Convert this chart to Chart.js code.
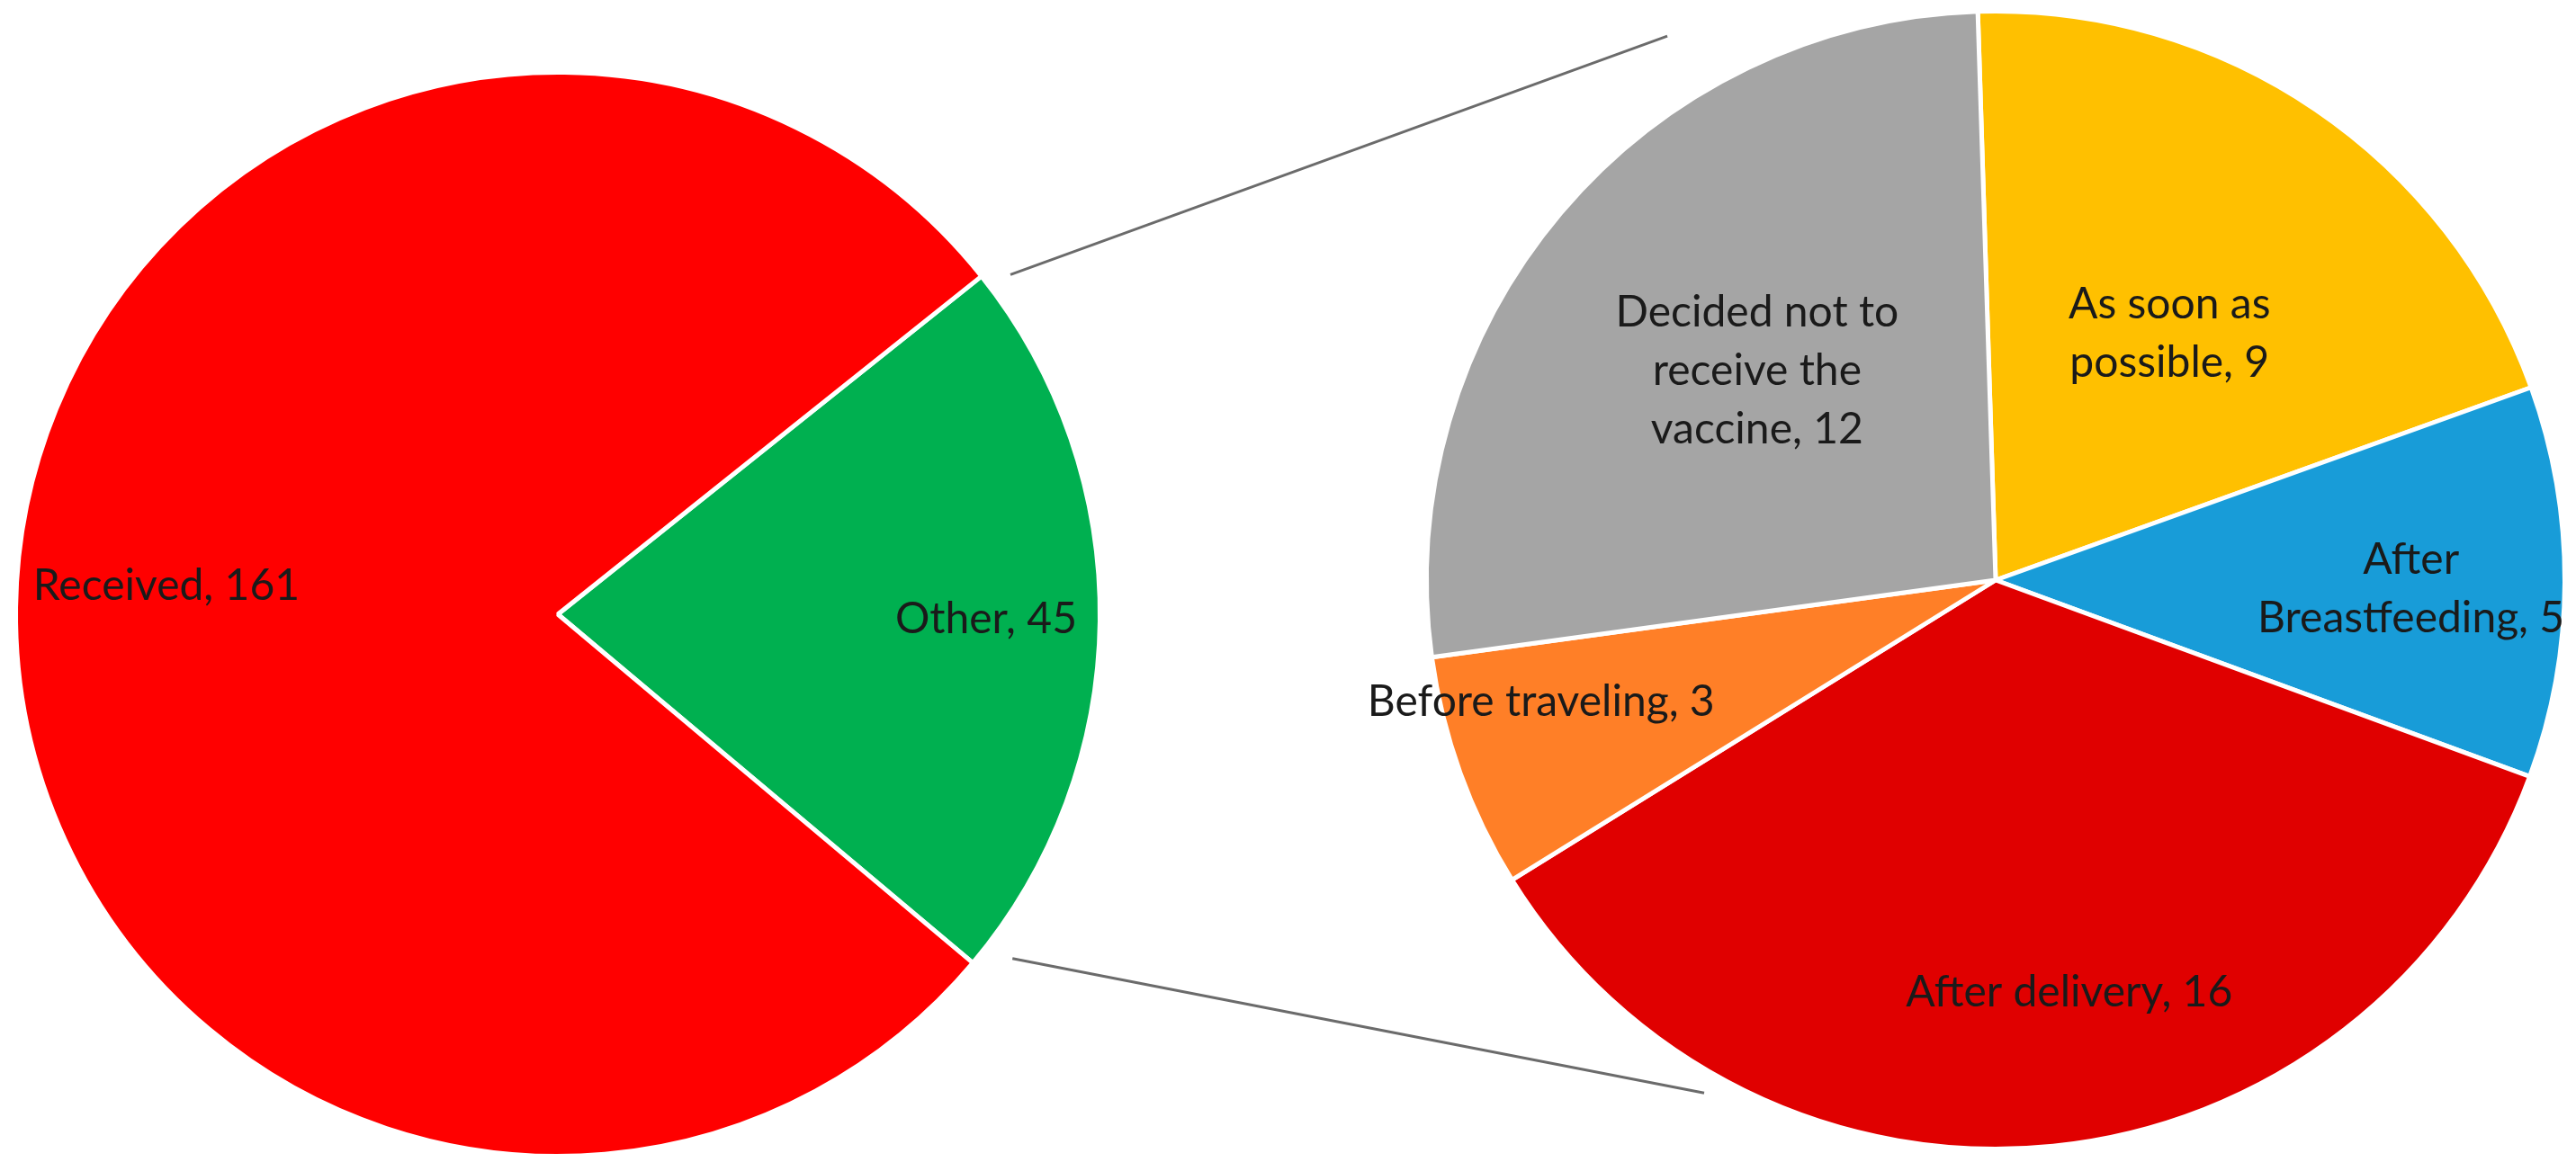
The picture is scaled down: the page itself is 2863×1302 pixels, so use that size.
<!DOCTYPE html>
<html>
<head>
<meta charset="utf-8">
<script src="https://cdn.jsdelivr.net/npm/chart.js@4.4.1/dist/chart.umd.min.js"></script>
<style>
html, body { margin: 0; padding: 0; background: #fff; }
#wrap { position: relative; width: 2863px; height: 1302px; }
#wrap canvas { position: absolute; left: 0; top: 0; }
</style>
</head>
<body>
<div id="wrap">
	<canvas id="mainPie" width="2863" height="1302"></canvas>
	<canvas id="subPie" width="2863" height="1302"></canvas>
</div>
<script>
// values
const mainCategories = ["Other", "Received"];
const mainValues = [45, 161];

const subCategories = ["As soon as possible", "After Breastfeeding", "After delivery", "Before traveling", "Decided not to receive the vaccine"];
const subValues = [9, 5, 16, 3, 12];

const mainColors = ["#00B050", "#FF0000"];
const subColors = ["#FFC000", "#189CD8", "#E00000", "#FF7F27", "#A5A5A5"];

const deg = Math.PI / 180;

function wrapText(ctx, text, maxW) {
	const words = text.split(" ");
	const lines = [];
	let cur = "";
	words.forEach((w) => {
		const test = cur ? cur + " " + w : w;
		if (cur && ctx.measureText(test).width > maxW) {
			lines.push(cur);
			cur = w;
		} else {
			cur = test;
		}
	});
	if (cur) lines.push(cur);
	return lines;
}

// label placement: r = fraction of radius, shift = degrees off the slice middle
function labelPlugin(places) {
	return {
		id: "sliceLabels",
		afterDatasetsDraw(chart) {
			const ctx = chart.ctx;
			const meta = chart.getDatasetMeta(0);
			const ds = chart.data.datasets[0];
			ctx.save();
			ctx.font = "48px Lato";
			ctx.fillStyle = "#1a1a1a";
			ctx.textAlign = "center";
			ctx.textBaseline = "middle";
			meta.data.forEach((arc, i) => {
				const p = arc.getProps(["x", "y", "startAngle", "endAngle", "outerRadius"], true);
				const pl = places[i];
				const a = (p.startAngle + p.endAngle) / 2 + pl.shift * deg;
				const cx = p.x + Math.cos(a) * p.outerRadius * pl.r;
				const cy = p.y + Math.sin(a) * p.outerRadius * pl.r;
				const lines = wrapText(ctx, chart.data.labels[i] + ", " + ds.data[i], pl.wrap || 9999);
				lines.forEach((ln, k) => {
					ctx.fillText(ln, cx, cy + (k - (lines.length - 1) / 2) * 65);
				});
			});
			ctx.restore();
		}
	};
}

function pieOptions(rotation, padding) {
	return {
		responsive: false,
		animation: false,
		events: [],
		rotation: rotation,
		layout: { padding: padding },
		plugins: {
			legend: { display: false },
			tooltip: { enabled: false }
		}
	};
}

const mainChart = new Chart(document.getElementById("mainPie"), {
	type: "pie",
	data: {
		labels: mainCategories,
		datasets: [{
			data: mainValues,
			backgroundColor: mainColors,
			borderColor: "#ffffff",
			borderWidth: 5,
			hoverBorderWidth: 5,
			hoverOffset: 0
		}]
	},
	options: pieOptions(51.4, { left: 15, top: 78, right: 1638, bottom: 14 }),
	plugins: [labelPlugin([
		{ r: 0.79, shift: 0 },
		{ r: 0.724, shift: 3.45 }
	])]
});

// lines joining the "Other" slice to the breakdown pie
const connectors = {
	id: "connectors",
	afterDraw(chart) {
		const ctx = chart.ctx;
		const arcMain = mainChart.getDatasetMeta(0).data[0].getProps(["x", "y", "startAngle", "endAngle", "outerRadius"], true);
		const arcSub = chart.getDatasetMeta(0).data[0].getProps(["x", "y", "outerRadius"], true);
		const pt = (c, ang, f) => [c.x + Math.cos(ang) * c.outerRadius * f, c.y + Math.sin(ang) * c.outerRadius * f];
		const segs = [
			[pt(arcMain, arcMain.startAngle + 1.7 * deg, 1.044), pt(arcSub, -121.1 * deg, 1.117)],
			[pt(arcMain, arcMain.endAngle - 2.9 * deg, 1.052), pt(arcSub, 119.6 * deg, 1.037)]
		];
		ctx.save();
		ctx.strokeStyle = "#6b6b6b";
		ctx.lineWidth = 3;
		segs.forEach(([a, b]) => {
			ctx.beginPath();
			ctx.moveTo(a[0], a[1]);
			ctx.lineTo(b[0], b[1]);
			ctx.stroke();
		});
		ctx.restore();
	}
};

const subChart = new Chart(document.getElementById("subPie"), {
	type: "pie",
	data: {
		labels: subCategories,
		datasets: [{
			data: subValues,
			backgroundColor: subColors,
			borderColor: "#ffffff",
			borderWidth: 5,
			hoverBorderWidth: 5,
			hoverOffset: 0
		}]
	},
	options: pieOptions(-1.8, { left: 1583, top: 10, right: 10, bottom: 22 }),
	plugins: [labelPlugin([
		{ r: 0.53, shift: 1.0, wrap: 300 },
		{ r: 0.73, shift: 1.0, wrap: 360 },
		{ r: 0.737, shift: -4.3 },
		{ r: 0.827, shift: 4.8 },
		{ r: 0.558, shift: 1.1, wrap: 340 }
	]), connectors]
});
</script>
</body>
</html>
